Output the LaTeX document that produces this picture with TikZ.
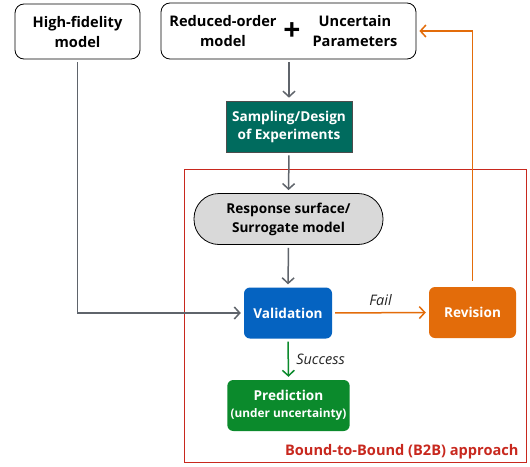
\documentclass[tikz,border=0pt]{standalone}
\usepackage{fontspec}
\setmainfont{Open Sans}
\usetikzlibrary{arrows.meta,positioning}
\definecolor{tealc}{HTML}{006B5E}
\definecolor{bluec}{HTML}{0563C1}
\definecolor{orangec}{HTML}{E36C0A}
\definecolor{greenc}{HTML}{0B8A2C}
\definecolor{grayc}{HTML}{5F646B}
\definecolor{redc}{HTML}{C8281E}
\definecolor{fillg}{HTML}{D9D9D9}
\tikzset{
  box/.style={draw=black, line width=0.8pt, rounded corners=9pt, align=center, font=\bfseries\fontsize{14.6}{20}\selectfont},
  colbox/.style={rounded corners=6pt, align=center, text=white, font=\bfseries\fontsize{13.6}{18}\selectfont},
  tip/.style={-{Straight Barb[length=5.5pt,width=12pt,line width=1.5pt]}, line width=1.5pt, shorten >=3pt, shorten <=3pt},
  lbl/.style={font=\itshape\fontsize{14.5}{16}\selectfont, text=black!85}
}
\begin{document}
\begin{tikzpicture}[x=1pt,y=-1pt]
\path[use as bounding box, fill=white] (0,0) rectangle (530,466);
% red region
\draw[redc, line width=0.9pt] (184.5,169.5) rectangle (526.5,462.5);
\node[text=redc, font=\bfseries\fontsize{14.6}{16}\selectfont, anchor=east] (b2b) at (522,452) {Bound-to-Bound (B2B) approach};
% nodes
\node[box, minimum width=125pt, minimum height=55pt] (hf) at (77.5,31.5) {High-fidelity\\model};
\node[box, minimum width=255pt, minimum height=56pt] (ro) at (288.5,31) {};
\node[font=\bfseries\fontsize{14.6}{20}\selectfont, align=center] (rot) at (223,31) {Reduced-order\\model};
\node[font=\bfseries\fontsize{30}{30}\selectfont] (plus) at (292,32) {+};
\node[font=\bfseries\fontsize{14.6}{20}\selectfont, align=center] (upt) at (355,31) {Uncertain\\Parameters};
\node[colbox, fill=tealc, draw=black!70, line width=0.6pt, rounded corners=0pt, minimum width=126pt, minimum height=51pt] (samp) at (289,126.5) {Sampling/Design\\of Experiments};
\node[draw=black, line width=0.8pt, fill=fillg, rounded corners=25pt, align=center, font=\bfseries\fontsize{13.6}{19}\selectfont, minimum width=189pt, minimum height=51pt] (resp) at (288.5,219) {Response surface/\\Surrogate model};
\node[colbox, fill=bluec, minimum width=88pt, minimum height=51pt] (val) at (288,313) {Validation};
\node[colbox, fill=orangec, minimum width=87pt, minimum height=51pt] (rev) at (472.5,312.5) {Revision};
\node[colbox, fill=greenc, minimum width=121pt, minimum height=51pt] (pred) at (288.5,405.5) {Prediction\\[-1pt]{\fontsize{11.8}{14}\selectfont(under uncertainty)}};
% connectors
\draw[tip, grayc] (hf.south) -- (hf.south |- val.west) -- (val.west);
\draw[tip, grayc] (ro.south -| samp.north) -- (samp.north);
\draw[tip, grayc] (samp.south) -- (resp.north);
\draw[tip, grayc] (resp.south) -- (val.north);
\draw[tip, orangec] (val.east) -- node[lbl, above=3pt] (fail) {Fail} (rev.west);
\draw[tip, greenc] (val.south) -- node[lbl, right=4pt] (succ) {Success} (pred.north);
\draw[tip, orangec, shorten <=6pt] (rev.north) -- (rev.north |- ro.east) -- (ro.east);
\end{tikzpicture}
\end{document}
